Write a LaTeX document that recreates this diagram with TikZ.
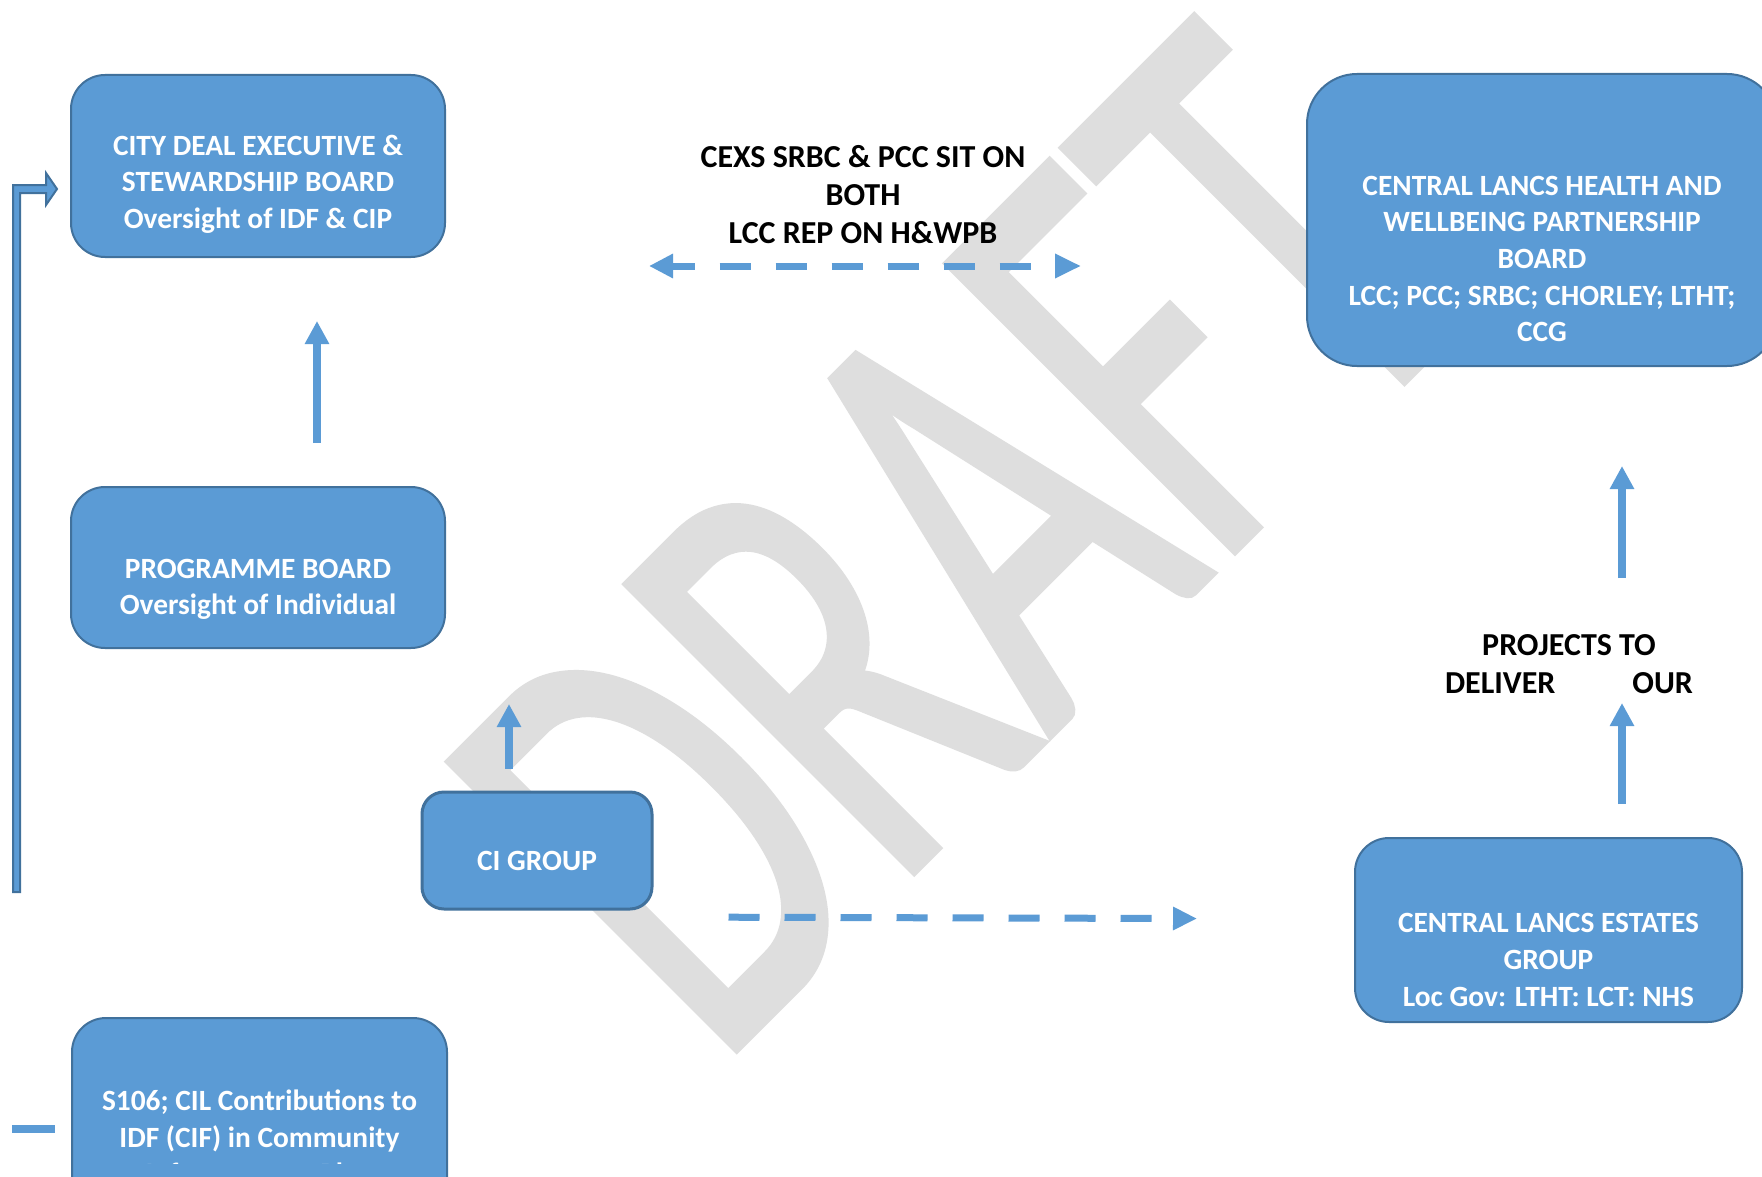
\documentclass[tikz,border=0pt]{standalone}
\usepackage{fontspec}
\setmainfont{Carlito}
\newfontfamily\wmfont[FakeBold=1.2]{Carlito}
\usepackage{tikz}
\usetikzlibrary{arrows.meta}
\definecolor{boxblue}{HTML}{5B9BD5}
\definecolor{boxedge}{HTML}{41719C}
\definecolor{wmgray}{HTML}{DEDEDE}
\tikzstyle{box}=[rectangle, rounded corners=17pt, draw=boxedge, fill=boxblue, line width=1pt]
\tikzstyle{uparrow}=[-{Triangle[length=11.5pt,width=11.5pt]}, line width=4pt, draw=boxblue]
\tikzstyle{dasharrow}=[line width=3.5pt, draw=boxblue, dash pattern=on 15.5pt off 12.5pt]

\begin{document}
\begin{tikzpicture}[x=0.5pt, y=-0.5pt,
  boxtext/.style={text=white, align=center, inner sep=0pt,
    font=\fontsize{14.7}{18.3}\selectfont\bfseries},
  note/.style={text=black, align=center, inner sep=0pt,
    font=\fontsize{16}{19}\selectfont\bfseries}]
\useasboundingbox (0,0) rectangle (1762,1177);
\clip (0,0) rectangle (1762,1177);
\fill[white] (0,0) rectangle (1762,1177);
\node[anchor=base west, rotate=45, inner sep=0pt, text=wmgray,
  font=\wmfont\fontsize{317}{317}\selectfont] (draft) at (716,1070) {\scalebox{0.64}[1]{DRAFT}};

\node[box, minimum width=187pt, minimum height=91pt] (cde) at (258,166) {};
\node[box, minimum width=187pt, minimum height=80.5pt] (prog) at (258,567.5) {};
\node[box, minimum width=187.5pt, minimum height=111pt] (s106) at (259.5,1129) {};
\node[box, rounded corners=11pt, line width=1.5pt, minimum width=115pt, minimum height=58.5pt] (ci) at (537,850.5) {};
\node[box, rounded corners=25pt, minimum width=235pt, minimum height=146pt] (hwb) at (1542,220) {};
\node[box, minimum width=193.5pt, minimum height=92pt] (cle) at (1548.5,930) {};

\node[boxtext] (cdetext) at ([yshift=-9pt]cde.center) {CITY DEAL EXECUTIVE \&\\STEWARDSHIP BOARD\\Oversight of IDF \& CIP};
\node[boxtext] (progtext) at ([yshift=-11pt]prog.center) {PROGRAMME BOARD\\Oversight of Individual};
\begin{scope}
\clip (0,0) rectangle (1762,1163);
\node[boxtext] (s106text) at ([yshift=-4pt]s106.center) {S106; CIL Contributions to\\IDF (CIF) in Community\\Infrastructure Plan};
\end{scope}
\node[boxtext] (citext) at ([yshift=-5.25pt]ci.center) {CI GROUP};
\node[boxtext] (hwbtext) at ([yshift=-19.5pt]hwb.center) {CENTRAL LANCS HEALTH AND\\WELLBEING PARTNERSHIP\\BOARD\\LCC; PCC; SRBC; CHORLEY; LTHT;\\CCG};
\node[boxtext] (cletext) at ([yshift=-15pt]cle.center) {CENTRAL LANCS ESTATES\\GROUP\\Loc Gov: LTHT: LCT: NHS};

\node[note] (bothnote) at (863,194.5) {CEXS SRBC \& PCC SIT ON\\BOTH\\LCC REP ON H\&WPB};
\node[note] (projnote) at (1569,664.5) {PROJECTS TO\\\makebox[124pt]{DELIVER\hfill OUR}};

\coordinate (pfoot) at (1622,578);
\coordinate (ptip) at (1622,703);

\draw[uparrow, shorten <=21.5pt, shorten >=31.5pt] ([xshift=29.5pt]prog.north) -- ([xshift=29.5pt]cde.south);
\draw[uparrow, shorten <=11pt, shorten >=27.5pt] ([xshift=-14pt]ci.north) -- ([xshift=125.5pt]prog.south);
\draw[uparrow, shorten <=16.5pt] ([xshift=36.75pt]cle.north) -- (ptip);
\draw[uparrow, shorten >=49.5pt] (pfoot) -- ([xshift=40pt]hwb.south);
\draw[dasharrow, dash phase=4pt, {Triangle[length=12pt,width=11.5pt]}-{Triangle[length=13pt,width=11.5pt]},
  shorten <=101.5pt, shorten >=112.5pt] ([yshift=-50pt]cde.east) -- ([yshift=-23pt]hwb.west);
\draw[dasharrow, -{Triangle[length=12pt,width=11pt]}, shorten <=37.5pt, shorten >=78.5pt]
  ([yshift=-33.25pt]ci.east) -- ([yshift=5.5pt]cle.west);
\draw[line width=4pt, draw=boxblue] ([xshift=-29.5pt]s106.west) -- ([xshift=-8pt]s106.west);
\filldraw[fill=boxblue, draw=boxedge, line width=1pt]
  (13,892) -- (13,185) -- (46,185) -- (46,173) -- (57,189) -- (46,205) -- (46,193) -- (20,193) -- (20,892) -- cycle;
\end{tikzpicture}
\end{document}
